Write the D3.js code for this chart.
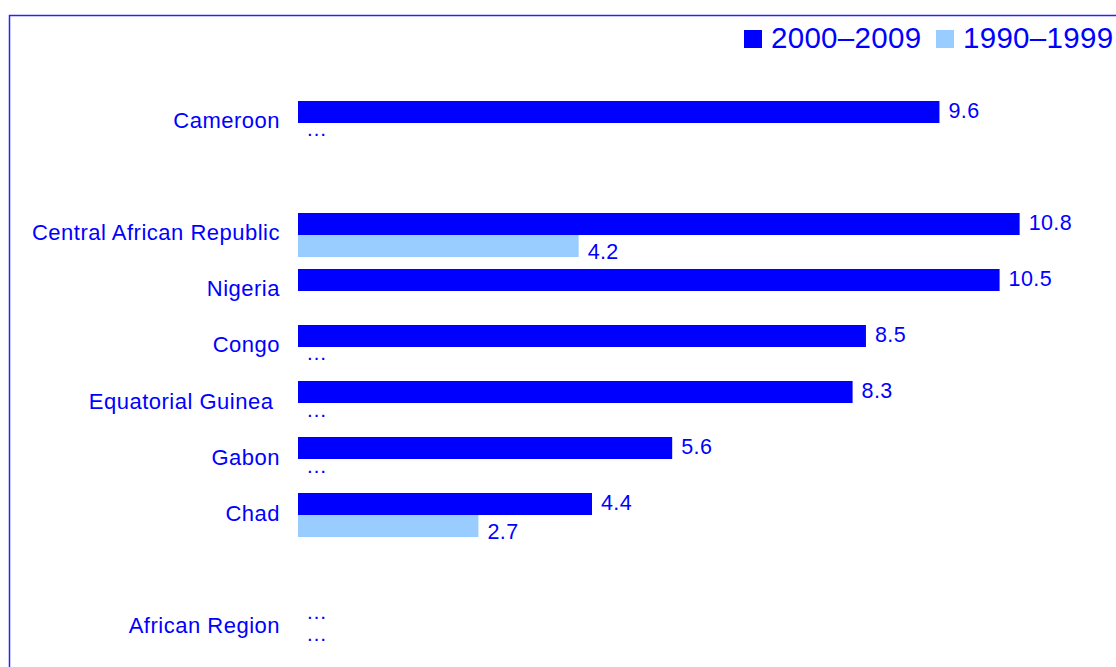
<!DOCTYPE html>
<html>
<head>
<meta charset="utf-8">
<script src="https://cdn.jsdelivr.net/npm/d3@7"></script>
<style>
  body { margin: 0; background: #fff; }
  text { font-family: "Liberation Sans", Arial, sans-serif; fill: #0000ff; }
</style>
</head>
<body>
<svg width="1116" height="667"></svg>
<script>
// rows of the chart, blanks are spacer rows
var countries = ["Cameroon", "", "Central African Republic", "Nigeria", "Congo",
                 "Equatorial Guinea ", "Gabon", "Chad", "", "African Region"];
var spacer = [false, true, false, false, false, false, false, false, true, false];
var values2000 = [9.6, null, 10.8, 10.5, 8.5, 8.3, 5.6, 4.4, null, null];
var values1990 = [null, null, 4.2, null, null, null, null, 2.7, null, null];
// "…" = data not available, "" = nothing shown
var notes2000 = ["", "", "", "", "", "", "", "", "", "\u2026"];
var notes1990 = ["\u2026", "", "", "", "\u2026", "\u2026", "\u2026", "", "", "\u2026"];
var seriesNames = ["2000\u20132009", "1990\u20131999"];
var colors = ["#0000ff", "#99ccff"];

var svg = d3.select("svg");

// frame (runs off the right and bottom edge)
svg.append("rect")
    .attr("x", 9.5).attr("y", 15.5)
    .attr("width", 1200).attr("height", 700)
    .attr("fill", "none")
    .attr("stroke", "#2424ff")
    .attr("stroke-width", 1.5);

var x = d3.scaleLinear().domain([0, 11]).range([298, 1033]);

var y = d3.scaleBand()
    .domain(d3.range(countries.length))
    .range([95, 655])
    .paddingInner(0.2143)
    .paddingOuter(0.107);

var ySub = d3.scaleBand().domain([0, 1]).range([0, y.bandwidth()]);

var rows = countries.map(function(c, i) {
  return {i: i, name: c, spacer: spacer[i],
          vals: [values2000[i], values1990[i]],
          notes: [notes2000[i], notes1990[i]]};
});

var row = svg.selectAll(".row")
    .data(rows.filter(function(d) { return !d.spacer; }))
  .enter().append("g")
    .attr("class", "row")
    .attr("transform", function(d) { return "translate(0," + y(d.i) + ")"; });

// category labels
row.append("text")
    .attr("x", 280)
    .attr("y", y.bandwidth() / 2 + 5.5)
    .attr("text-anchor", "end")
    .style("font-size", "22px")
    .style("letter-spacing", "0.5px")
    .style("white-space", "pre")
    .text(function(d) { return d.name; });

var cell = row.selectAll(".cell")
    .data(function(d) { return d.vals.map(function(v, k) { return {k: k, v: v, note: d.notes[k]}; }); })
  .enter().append("g")
    .attr("class", "cell");

cell.filter(function(d) { return d.v != null; })
  .append("rect")
    .attr("x", x(0))
    .attr("y", function(d) { return ySub(d.k); })
    .attr("width", function(d) { return x(d.v) - x(0); })
    .attr("height", ySub.bandwidth())
    .attr("fill", function(d) { return colors[d.k]; });

cell.filter(function(d) { return d.v != null; })
  .append("text")
    .attr("x", function(d) { return x(d.v) + 9; })
    .attr("y", function(d) { return ySub(d.k) + ySub.bandwidth() / 2 + (d.k === 0 ? 5.5 : 13); })
    .style("font-size", "21.5px")
    .style("letter-spacing", "0.4px")
    .text(function(d) { return d.v.toFixed(1); });

// missing values
cell.filter(function(d) { return d.v == null && d.note; })
  .append("text")
    .attr("x", x(0) + 8)
    .attr("y", function(d) { return ySub(d.k) + ySub.bandwidth() / 2 + 2.5; })
    .style("font-size", "21px")
    .text(function(d) { return d.note; });

// legend
var legendX = [744, 936];
var legend = svg.selectAll(".legend")
    .data(seriesNames)
  .enter().append("g")
    .attr("class", "legend")
    .attr("transform", function(d, i) { return "translate(" + legendX[i] + ",30)"; });

legend.append("rect")
    .attr("width", 18).attr("height", 18)
    .attr("fill", function(d, i) { return colors[i]; });

legend.append("text")
    .attr("x", 27)
    .attr("y", 17.7)
    .style("font-size", "29.5px")
    .style("letter-spacing", "0.3px")
    .text(function(d) { return d; });
</script>
</body>
</html>
